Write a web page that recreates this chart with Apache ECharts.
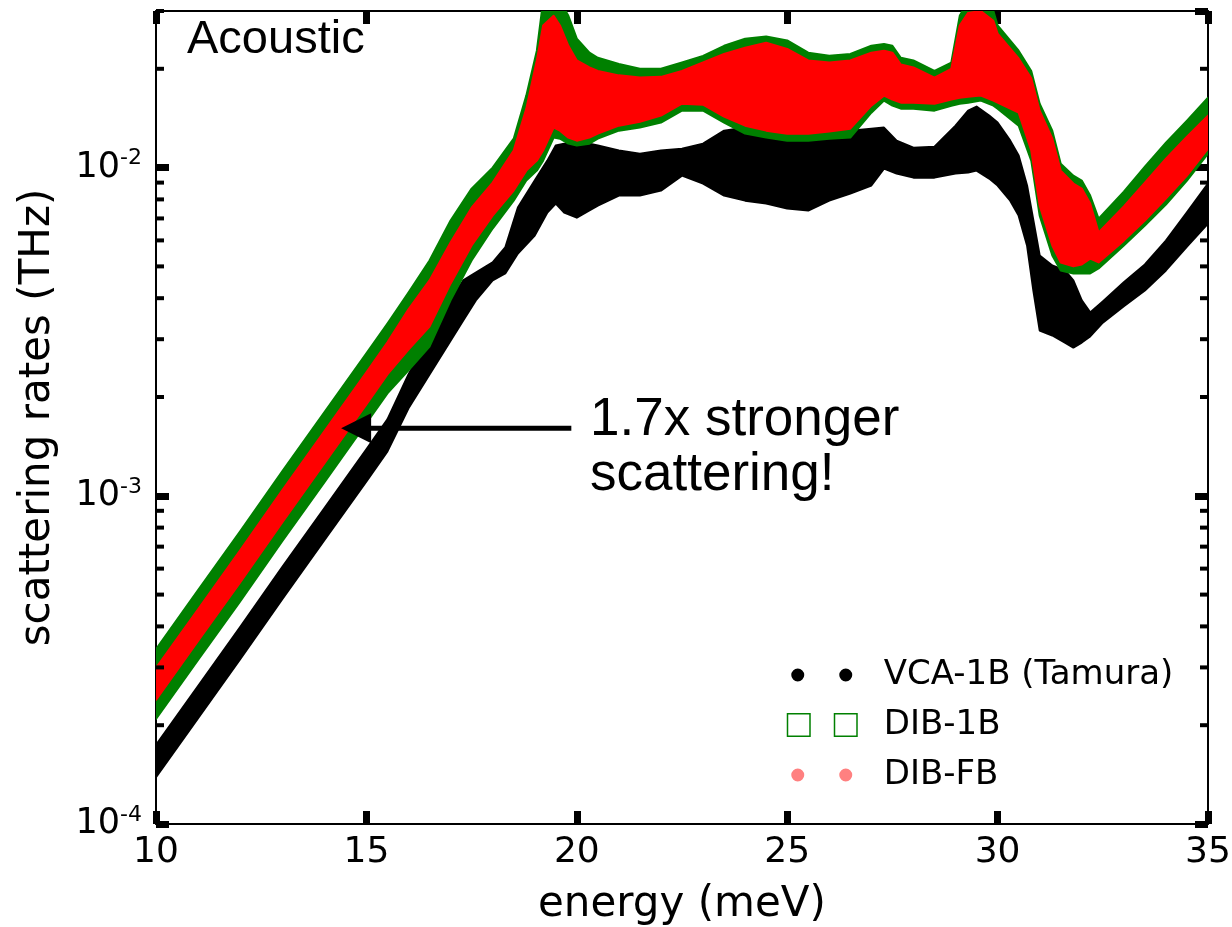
<!DOCTYPE html>
<html>
<head>
<meta charset="utf-8">
<script src="https://cdn.jsdelivr.net/npm/echarts@6/dist/echarts.min.js"></script>
<style>
html,body{margin:0;padding:0;background:#fff;}
#chart{width:1232px;height:927px;}
</style>
</head>
<body>
<div id="chart"></div>
<script>
// ---------------- data ----------------
// VCA-1B (Tamura): envelope of the black point cloud
const vcaEnergy = [10, 11, 12, 13, 14, 15, 15.5, 16, 16.5, 17, 17.3, 17.6, 18, 18.3, 18.6, 19, 19.3, 19.5,
  19.7, 20, 20.3, 20.5, 21, 21.5, 22, 22.5, 23, 23.5, 24, 24.5, 25, 25.5, 26, 26.5, 27, 27.3,
  27.6, 28, 28.5, 29, 29.3, 29.5, 29.8, 30, 30.3, 30.5, 30.7, 30.85, 31, 31.3, 31.6, 31.8, 32, 32.2,
  32.5, 33, 33.5, 34, 34.5, 35];
const vcaUpper = [0.000174, 0.000263, 0.000398, 0.000606, 0.000916, 0.001385,
  0.00171, 0.002344, 0.00308, 0.00394, 0.00453, 0.00479,
  0.00514, 0.00571, 0.00755, 0.00913, 0.0105, 0.01167,
  0.01183, 0.01183, 0.01183, 0.01167, 0.01127, 0.01103,
  0.01127, 0.01142, 0.01183, 0.01296, 0.01324, 0.01296,
  0.01269, 0.01269, 0.01287, 0.01296, 0.01314, 0.01324,
  0.01208, 0.0115, 0.01158, 0.01342, 0.01491, 0.01534,
  0.0144, 0.01371, 0.01208, 0.01088, 0.00882, 0.0069,
  0.0054, 0.00503, 0.00486, 0.00453, 0.00394, 0.00362,
  0.00391, 0.00447, 0.00507, 0.00599, 0.0073, 0.00894];
const vcaLower = [0.000139, 0.00021, 0.000318, 0.000484, 0.000732, 0.001107,
  0.001366, 0.001847, 0.002344, 0.00297, 0.00342, 0.00394,
  0.00453, 0.00476, 0.00547, 0.00621, 0.0073, 0.00777,
  0.0073, 0.00704, 0.0074, 0.00766, 0.00822, 0.00822,
  0.00851, 0.00945, 0.00894, 0.00822, 0.00793, 0.00777,
  0.0075, 0.0074, 0.00793, 0.00834, 0.00882, 0.00993,
  0.00959, 0.00932, 0.00932, 0.00959, 0.00966, 0.00979,
  0.00926, 0.00882, 0.00793, 0.00714, 0.00579, 0.00422,
  0.00319, 0.00308, 0.00293, 0.00283, 0.00293, 0.00306,
  0.00337, 0.00378, 0.00422, 0.00486, 0.00575, 0.00675];

// DIB-1B (green squares) and DIB-FB (red points): envelopes
const dibEnergy = [10, 11, 12, 13, 14, 15, 15.5, 16, 16.5, 17, 17.5, 18, 18.5, 18.8, 19.05, 19.2, 19.45, 19.6,
  19.8, 20, 20.3, 20.5, 21, 21.5, 22, 22.5, 23, 23.5, 24, 24.5, 25, 25.5, 26, 26.5, 27, 27.3,
  27.5, 27.7, 28, 28.5, 28.9, 29.1, 29.3, 29.6, 29.9, 30, 30.5, 30.8, 31, 31.3, 31.5, 31.8, 32, 32.2,
  32.4, 33, 33.5, 34, 34.5, 35];
const dib1bUpper = [0.000341, 0.000516, 0.00078, 0.001187, 0.001795, 0.002716,
  0.00335, 0.00416, 0.00521, 0.0069, 0.00863, 0.0100,
  0.01225, 0.01657, 0.0227, 0.0322, 0.0322, 0.0322,
  0.0290, 0.0247, 0.0224, 0.0216, 0.0207, 0.0200,
  0.0200, 0.0209, 0.0219, 0.0235, 0.0247, 0.0251,
  0.0244, 0.0224, 0.0219, 0.0222, 0.0235, 0.0238,
  0.0235, 0.0216, 0.0212, 0.0197, 0.0209, 0.0290,
  0.0322, 0.0322, 0.0300, 0.0271, 0.0227, 0.0197,
  0.01566, 0.01296, 0.01028, 0.00945, 0.00913, 0.00822,
  0.00699, 0.00845, 0.01007, 0.01191, 0.0139, 0.01633];
const dib1bLower = [0.000209, 0.000316, 0.000477, 0.000727, 0.001099, 0.001663,
  0.002051, 0.00241, 0.00285, 0.00394, 0.00521, 0.00652,
  0.00793, 0.00913, 0.00979, 0.0105, 0.01234, 0.01225,
  0.01183, 0.01167, 0.01183, 0.01225, 0.01296, 0.01324,
  0.01371, 0.01491, 0.01491, 0.01371, 0.01269, 0.01234,
  0.01208, 0.01208, 0.01225, 0.01234, 0.0147, 0.0160,
  0.01544, 0.01512, 0.01512, 0.01491, 0.01544, 0.01566,
  0.01577, 0.0160, 0.01544, 0.01512, 0.01342, 0.0105,
  0.00714, 0.0054, 0.00486, 0.00476, 0.00476, 0.00476,
  0.00493, 0.00579, 0.00666, 0.00772, 0.00913, 0.01103];
const dibfbUpper = [0.000299, 0.000451, 0.000682, 0.001039, 0.001572, 0.002376,
  0.002934, 0.0037, 0.00453, 0.00591, 0.00755, 0.0090,
  0.01127, 0.01512, 0.0212, 0.0271, 0.0290, 0.0271,
  0.0235, 0.0212, 0.0202, 0.0197, 0.0191, 0.0188,
  0.0189, 0.0197, 0.0209, 0.0222, 0.0232, 0.0240,
  0.0230, 0.0212, 0.0209, 0.0212, 0.0224, 0.0227,
  0.0224, 0.0206, 0.0202, 0.0188, 0.0200, 0.0271,
  0.0296, 0.0300, 0.0280, 0.0256, 0.0215, 0.0187,
  0.01491, 0.01225, 0.00979, 0.00894, 0.00863, 0.00777,
  0.00634, 0.00761, 0.0090, 0.01065, 0.01243, 0.0144];
const dibfbLower = [0.000239, 0.000361, 0.000545, 0.00083, 0.001256, 0.001899,
  0.002344, 0.00279, 0.00328, 0.00443, 0.00579, 0.00714,
  0.00851, 0.00979, 0.0105, 0.01127, 0.01324, 0.01296,
  0.01234, 0.01208, 0.01234, 0.01269, 0.01342, 0.0138,
  0.0144, 0.01566, 0.01555, 0.0143, 0.01342, 0.01296,
  0.01269, 0.01269, 0.01287, 0.01314, 0.01544, 0.01657,
  0.01611, 0.01577, 0.01577, 0.01566, 0.01611, 0.01633,
  0.01645, 0.01657, 0.0160, 0.01577, 0.0147, 0.01127,
  0.00766, 0.00579, 0.00514, 0.0050, 0.00507, 0.00528,
  0.00514, 0.00599, 0.0069, 0.00805, 0.00945, 0.01142];

// axes
const xMin = 10, xMax = 35, xStep = 5;
const yMin = 1e-4, yMax = 0.03;
const yMinorTicks = [2e-4, 3e-4, 4e-4, 5e-4, 6e-4, 7e-4, 8e-4, 9e-4,
  2e-3, 3e-3, 4e-3, 5e-3, 6e-3, 7e-3, 8e-3, 9e-3, 2e-2, 3e-2];

// annotation arrow (data coordinates: energy, rate)
const arrowFrom = [19.87, 1.605e-3];
const arrowTo = [14.40, 1.605e-3];

const seriesNames = ['VCA-1B (Tamura)', 'DIB-1B', 'DIB-FB'];

// ---------------- chart ----------------
const chart = echarts.init(document.getElementById('chart'), null, { renderer: 'canvas' });

function bandSeries(name, energy, upper, lower, color, z) {
  return {
    type: 'custom', name: name, coordinateSystem: 'cartesian2d',
    xAxisIndex: 0, yAxisIndex: 0, clip: true, silent: true, z: z,
    data: energy.map(function (e, i) { return [e, upper[i], lower[i]]; }),
    encode: { x: 0, y: [1, 2] },
    renderItem: function (params, api) {
      if (params.dataIndex !== 0) return null;
      const pts = [];
      for (let i = 0; i < energy.length; i++) pts.push(api.coord([energy[i], upper[i]]));
      for (let i = energy.length - 1; i >= 0; i--) pts.push(api.coord([energy[i], lower[i]]));
      return {
        type: 'polygon', shape: { points: pts },
        style: { fill: color, stroke: color, lineWidth: 2, lineJoin: 'round' }
      };
    }
  };
}

const FONT = 'DejaVu Sans';
const dotsIcon = 'path://M0,0M92,24M4.5,12a6.5,6.5 0 1,0 13,0a6.5,6.5 0 1,0 -13,0ZM52.5,12a6.5,6.5 0 1,0 13,0a6.5,6.5 0 1,0 -13,0Z';
const squaresIcon = 'path://M0,0M92,24M0.75,0.75H23.25V23.25H0.75ZM47.75,0.75H70.25V23.25H47.75Z';

const yAxisBase = {
  type: 'log', logBase: 10, min: yMin, max: yMax,
  axisLine: { show: true, lineStyle: { color: '#000', width: 2 } },
  axisTick: { show: true, inside: true, length: 13, lineStyle: { color: '#000', width: 7 } },
  splitLine: { show: false }, minorTick: { show: false }
};
const xAxisBase = {
  type: 'value', min: xMin, max: xMax, interval: xStep,
  axisLine: { show: true, onZero: false, lineStyle: { color: '#000', width: 2 } },
  axisTick: { show: true, inside: true, length: 13, lineStyle: { color: '#000', width: 7 } },
  splitLine: { show: false }
};

const option = {
  animation: false,
  backgroundColor: '#fff',
  textStyle: { fontFamily: FONT },
  grid: { left: 156, top: 11, right: 24, bottom: 103, containLabel: false, outerBoundsMode: 'none' },
  xAxis: [
    Object.assign({}, xAxisBase, {
      position: 'bottom',
      name: 'energy (meV)', nameLocation: 'middle', nameGap: 60,
      nameTextStyle: { fontFamily: FONT, fontSize: 42, color: '#000' },
      axisLabel: { show: true, margin: 11, color: '#000', fontFamily: FONT, fontSize: 36 }
    }),
    Object.assign({}, xAxisBase, { position: 'top', axisLabel: { show: false } })
  ],
  yAxis: [
    Object.assign({}, yAxisBase, {
      position: 'left',
      name: 'scattering rates (THz)', nameLocation: 'middle', nameGap: 97,
      nameTextStyle: { fontFamily: FONT, fontSize: 42, color: '#000' },
      axisLabel: {
        show: true, margin: 14, showMaxLabel: false,
        formatter: function (v) { return '{b|10}{s|' + Math.round(Math.log10(v)) + '}'; },
        rich: {
          b: { fontFamily: FONT, fontSize: 35, color: '#000', lineHeight: 40 },
          s: { fontFamily: FONT, fontSize: 22, color: '#000', lineHeight: 30, verticalAlign: 'top' }
        }
      }
    }),
    Object.assign({}, yAxisBase, { position: 'right', axisLabel: { show: false } })
  ],
  legend: {
    orient: 'vertical', left: 786, top: 658, padding: 0,
    itemWidth: 92, itemHeight: 24, itemGap: 16, selectedMode: false,
    textStyle: { fontFamily: FONT, fontSize: 34, color: '#000', lineHeight: 34 },
    data: [
      { name: seriesNames[0], icon: dotsIcon, itemStyle: { color: '#000', borderWidth: 0 } },
      { name: seriesNames[1], icon: squaresIcon, itemStyle: { color: 'rgba(0,0,0,0)', borderColor: '#008000', borderWidth: 1.5 } },
      { name: seriesNames[2], icon: dotsIcon, itemStyle: { color: '#ff8080', borderWidth: 0 } }
    ]
  },
  graphic: [
    { type: 'text', x: 187, y: 40, z: 100,
      style: { text: 'Acoustic', font: '47px "Liberation Sans"', fill: '#000', align: 'left', verticalAlign: 'middle' } },
    { type: 'text', x: 590, y: 393, z: 100,
      style: { text: '1.7x stronger\nscattering!', font: '53px "Liberation Sans"', lineHeight: 55, fill: '#000', align: 'left', verticalAlign: 'top' } }
  ],
  series: [
    bandSeries(seriesNames[0], vcaEnergy, vcaUpper, vcaLower, '#000000', 2),
    bandSeries(seriesNames[1], dibEnergy, dib1bUpper, dib1bLower, '#008000', 3),
    bandSeries(seriesNames[2], dibEnergy, dibfbUpper, dibfbLower, '#ff0000', 4),
    {
      type: 'custom', name: 'minorTicks', silent: true, clip: false, z: 10,
      data: yMinorTicks.map(function (v) { return [xMin, v]; }),
      encode: { x: 0, y: 1 },
      renderItem: function (params, api) {
        const p = api.coord([api.value(0), api.value(1)]);
        const cs = params.coordSys;
        return {
          type: 'group', children: [
            { type: 'line', shape: { x1: cs.x, y1: p[1], x2: cs.x + 8, y2: p[1] }, style: { stroke: '#000', lineWidth: 4 } },
            { type: 'line', shape: { x1: cs.x + cs.width, y1: p[1], x2: cs.x + cs.width - 8, y2: p[1] }, style: { stroke: '#000', lineWidth: 4 } }
          ]
        };
      }
    },
    {
      type: 'custom', name: 'arrow', silent: true, clip: false, z: 11,
      data: [[arrowFrom[0], arrowFrom[1], arrowTo[0], arrowTo[1]]],
      encode: { x: [0, 2], y: [1, 3] },
      renderItem: function (params, api) {
        const a = api.coord([api.value(0), api.value(1)]);
        const b = api.coord([api.value(2), api.value(3)]);
        const head = 30, hw = 15;
        return {
          type: 'group', children: [
            { type: 'line', shape: { x1: a[0], y1: a[1], x2: b[0] + head - 2, y2: b[1] }, style: { stroke: '#000', lineWidth: 5 } },
            { type: 'polygon', shape: { points: [[b[0], b[1]], [b[0] + head, b[1] - hw], [b[0] + head, b[1] + hw]] }, style: { fill: '#000' } }
          ]
        };
      }
    }
  ]
};
chart.setOption(option);
</script>
</body>
</html>
